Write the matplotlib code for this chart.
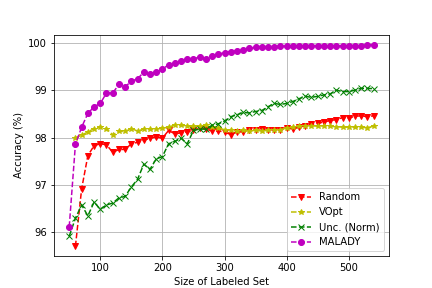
import numpy as np
import matplotlib
matplotlib.use("Agg")
import matplotlib.pyplot as plt

x_long = np.arange(50, 550, 10)
x_short = np.arange(60, 550, 10)

random_acc = [95.71, 96.92, 97.62, 97.83, 97.87, 97.85, 97.69, 97.75, 97.75, 97.87,
              97.90, 97.94, 97.99, 98.01, 97.99, 98.15, 98.08, 98.10, 98.12, 98.15,
              98.20, 98.18, 98.14, 98.14, 98.12, 98.06, 98.12, 98.12, 98.17, 98.16,
              98.18, 98.17, 98.16, 98.17, 98.20, 98.18, 98.22, 98.25, 98.28, 98.30,
              98.33, 98.36, 98.38, 98.42, 98.41, 98.45, 98.46, 98.44, 98.46]

vopt_acc = [98.00, 98.05, 98.12, 98.19, 98.22, 98.19, 98.06, 98.13, 98.13, 98.19,
            98.14, 98.18, 98.18, 98.18, 98.20, 98.22, 98.27, 98.26, 98.24, 98.24,
            98.24, 98.26, 98.22, 98.20, 98.17, 98.16, 98.14, 98.15, 98.13, 98.16,
            98.14, 98.15, 98.16, 98.17, 98.20, 98.22, 98.24, 98.25, 98.25, 98.24,
            98.25, 98.24, 98.23, 98.22, 98.22, 98.22, 98.22, 98.21, 98.24]

unc_acc = [95.92, 96.30, 96.58, 96.35, 96.64, 96.49, 96.58, 96.62, 96.73, 96.76,
           96.96, 97.12, 97.44, 97.33, 97.55, 97.60, 97.87, 97.92, 97.99, 97.87,
           98.15, 98.18, 98.18, 98.26, 98.29, 98.35, 98.44, 98.48, 98.53, 98.52,
           98.55, 98.57, 98.65, 98.72, 98.70, 98.72, 98.76, 98.82, 98.87, 98.85,
           98.87, 98.90, 98.92, 99.00, 98.97, 98.97, 99.00, 99.04, 99.04, 99.03]

malady_acc = [96.12, 97.86, 98.22, 98.51, 98.65, 98.72, 98.94, 98.94, 99.12, 99.07,
              99.19, 99.24, 99.38, 99.35, 99.38, 99.44, 99.54, 99.57, 99.62, 99.65,
              99.66, 99.70, 99.66, 99.72, 99.76, 99.79, 99.81, 99.83, 99.85, 99.88,
              99.90, 99.90, 99.92, 99.92, 99.93, 99.93, 99.94, 99.94, 99.94, 99.94,
              99.94, 99.94, 99.94, 99.93, 99.94, 99.94, 99.94, 99.94, 99.95, 99.96]

fig, ax = plt.subplots(figsize=(6, 4), dpi=72)

ax.plot(x_short, random_acc, 'r--', marker='v', label='Random')
ax.plot(x_short, vopt_acc, 'y--', marker='*', label='VOpt')
ax.plot(x_long, unc_acc, 'g--', marker='x', label='Unc. (Norm)')
ax.plot(x_long, malady_acc, 'm--', marker='o', label='MALADY')

ax.set_xlabel('Size of Labeled Set')
ax.set_ylabel('Accuracy (%)')
ax.grid(True)
ax.legend(loc='lower right')

fig.savefig("out.png")
